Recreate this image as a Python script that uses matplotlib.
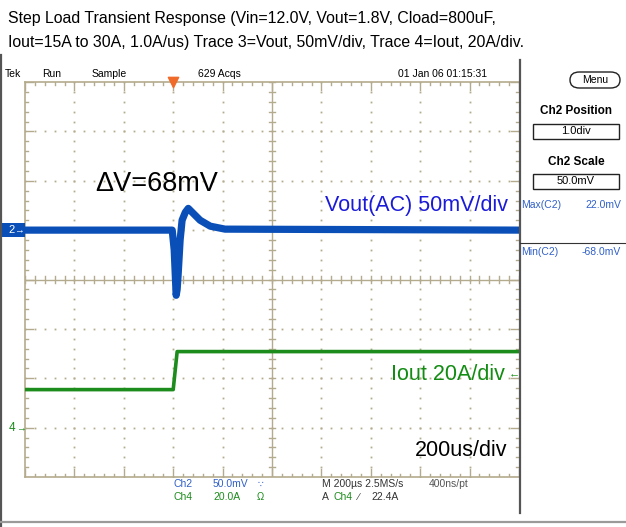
import numpy as np
import matplotlib
matplotlib.use("Agg")
import matplotlib.pyplot as plt
from matplotlib.patches import Rectangle, FancyBboxPatch

# --- data read from the scope capture (time in us, trigger at 0) ---
vout_t = [-600, -4, 4, 12, 16, 20, 28, 36, 49, 61, 77, 109, 150, 210, 1400]
vout_mv = [0, 0, -20, -66, -60, -45, -10, 10, 18, 22, 18, 10, 4, 1, 0]
iout_t = [-600, 0, 16, 1400]
iout_a = [15.4, 15.4, 30.8, 30.8]

W, H = 626, 527
fig = plt.figure(figsize=(W / 100, H / 100), dpi=100)
fig.patch.set_facecolor("white")

sans = ["Liberation Sans", "DejaVu Sans"]
grat = "#b4ab8e"


def px(x, y):
    return x / W, 1 - y / H


def ftext(x, y, s, **kw):
    kw.setdefault("va", "center")
    kw.setdefault("family", sans)
    fig.text(*px(x, y), s, **kw)


# graticule area in pixels
gx0, gx1, gy0, gy1 = 25, 519, 82, 477
rect = [gx0 / W, 1 - gy1 / H, (gx1 - gx0) / W, (gy1 - gy0) / H]

# graticule axes, in divisions
g = fig.add_axes(rect)
g.set_xlim(0, 10)
g.set_ylim(0, 8)
g.set_xticks([])
g.set_yticks([])
for s in ["top", "bottom", "left"]:
    g.spines[s].set_color(grat)
    g.spines[s].set_linewidth(1.2)
g.spines["right"].set_visible(False)

sub = np.arange(0, 10.01, 0.2)
subv = np.arange(0, 8.01, 0.2)
for k in range(1, 10):
    if k != 5:
        g.plot(np.full(len(subv), k), subv, ls="none", marker="s", ms=1.3, color=grat, mew=0)
for k in range(1, 8):
    if k != 4:
        g.plot(sub, np.full(len(sub), k), ls="none", marker="s", ms=1.3, color=grat, mew=0)
g.axhline(4, color=grat, lw=1.0)
g.axvline(5, color=grat, lw=1.0)
# ticks on centre lines and edges
for x in sub:
    major = abs(x - round(x)) < 1e-6
    g.plot([x, x], [4 - 0.07, 4 + 0.07], color=grat, lw=1.0)
    L = 0.16 if major else 0.07
    g.plot([x, x], [8, 8 - L], color=grat, lw=1.0)
    g.plot([x, x], [0, L], color=grat, lw=1.0)
for y in subv:
    major = abs(y - round(y)) < 1e-6
    g.plot([5 - 0.07, 5 + 0.07], [y, y], color=grat, lw=1.0)
    L = 0.16 if major else 0.07
    g.plot([0, L], [y, y], color=grat, lw=1.0)
    g.plot([10, 10 - L], [y, y], color=grat, lw=1.0)

# Vout channel (Ch2): 50 mV/div, ground at +1 div
av = fig.add_axes(rect, frameon=False)
av.set_xlim(-600, 1400)
av.set_ylim(-250, 150)
av.set_xticks([])
av.set_yticks([])
av.plot(vout_t, vout_mv, color="#0a4fb8", lw=5.2, solid_joinstyle="round")
av.plot(vout_t, vout_mv, color="#0a4fb8", lw=1.6)
av.scatter([0], [150], marker="v", s=55, color="#f06a2a", clip_on=False, zorder=5)

# Iout channel (Ch4): 20 A/div, ground at -3 div
ai = fig.add_axes(rect, frameon=False)
ai.set_xlim(-600, 1400)
ai.set_ylim(-20, 140)
ai.set_xticks([])
ai.set_yticks([])
ai.plot(iout_t, iout_a, color="#1c8c1c", lw=2.6)

# frame lines of the screen
fig.add_artist(plt.Line2D([519.5 / W] * 2, [1 - 60 / H, 1 - 513 / H], color="#555555", lw=1.6))
fig.add_artist(plt.Line2D([1 / W] * 2, [1 - 55 / H, 0], color="#555555", lw=1.6))
fig.add_artist(plt.Line2D([0, 1], [1 - 522 / H] * 2, color="#9a9a9a", lw=1.6))
fig.add_artist(plt.Line2D([520 / W, 1], [1 - 243 / H] * 2, color="#333333", lw=0.8))

# title
ftext(8, 18, "Step Load Transient Response (Vin=12.0V, Vout=1.8V, Cload=800uF,", size=11.4)
ftext(8, 42, "Iout=15A to 30A, 1.0A/us) Trace 3=Vout, 50mV/div, Trace 4=Iout, 20A/div.", size=11.4)

# status line
for x, s in [(5, "Tek"), (42, "Run"), (92, "Sample"), (198, "629 Acqs"), (398, "01 Jan 06 01:15:31")]:
    ftext(x, 74, s, size=7.5)

# right panel
fig.add_artist(FancyBboxPatch(px(570, 88), 50 / W, 16 / H, boxstyle="round,pad=0,rounding_size=0.015",
                              fc="white", ec="#222222", lw=1.0))
ftext(595, 80, "Menu", size=7.5, ha="center")
ftext(576, 111, "Ch2 Position", size=8.5, ha="center", weight="bold")
fig.add_artist(Rectangle(px(533, 139), 86 / W, 15 / H, fc="white", ec="#222222", lw=1.0))
ftext(576, 131, "1.0div", size=8, ha="center")
ftext(576, 162, "Ch2 Scale", size=8.5, ha="center", weight="bold")
fig.add_artist(Rectangle(px(533, 189), 86 / W, 15 / H, fc="white", ec="#222222", lw=1.0))
ftext(576, 181, "50.0mV", size=8, ha="center")
ftext(521, 205, "Max(C2)", size=7.5, color="#3060c8")
ftext(621, 205, "22.0mV", size=7.5, color="#3060c8", ha="right")
ftext(521, 252, "Min(C2)", size=7.5, color="#3060c8")
ftext(621, 252, "-68.0mV", size=7.5, color="#3060c8", ha="right")

# channel markers
fig.add_artist(Rectangle(px(0, 237), 25 / W, 14 / H, fc="#0a4fb8", ec="none"))
ftext(12, 230, "2", size=8, color="white", ha="center")
ftext(19, 230, "\u2192", size=7, color="white", ha="center")
ftext(12, 428, "4", size=8.5, color="#1c8c1c", ha="center")
ftext(21, 428, "\u2192", size=7, color="#1c8c1c", ha="center")

# annotations
ftext(95, 184, "\u0394V=68mV", size=19.5)
ftext(508, 206, "Vout(AC) 50mV/div", size=15.5, color="#1a1ad8", ha="right")
ftext(505, 375, "Iout 20A/div", size=15.5, color="#128c12", ha="right")
ftext(514, 373, "\u2190", size=8, color="#128c12", ha="center")
ftext(507, 450, "200us/div", size=15.5, ha="right")

# bottom readout
ftext(173, 484, "Ch2", size=7.5, color="#3060c8")
ftext(213, 484, "50.0mV", size=7.5, color="#3060c8")
ftext(257, 484, "\u2235", size=6.5, color="#3060c8")
ftext(173, 497, "Ch4", size=7.5, color="#1c8c1c")
ftext(213, 497, "20.0A", size=7.5, color="#1c8c1c")
ftext(257, 497, "\u03a9", size=7, color="#1c8c1c")
ftext(322, 484, "M 200\u00b5s 2.5MS/s", size=7.5, color="#333333")
ftext(429, 484, "400ns/pt", size=7.5, color="#555555")
ftext(322, 497, "A", size=7.5, color="#333333")
ftext(333, 497, "Ch4", size=7.5, color="#1c8c1c")
ftext(358, 497, "\u2215", size=7, color="#333333")
ftext(371, 497, "22.4A", size=7.5, color="#333333")

fig.savefig("out.png", dpi=100)
